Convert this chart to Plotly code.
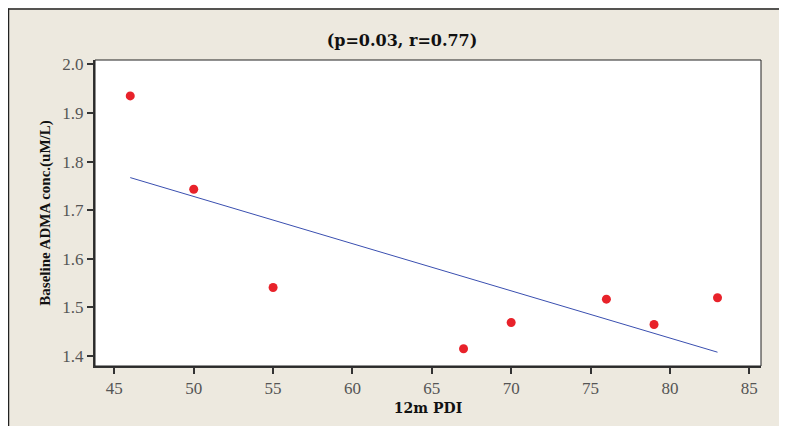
import plotly.graph_objects as go

pdi_12m = [46, 50, 55, 67, 70, 76, 79, 83]
adma = [1.935, 1.743, 1.541, 1.415, 1.469, 1.517, 1.465, 1.520]
fit_x = [46, 83]
fit_y = [1.767, 1.408]
x_ticks = [45, 50, 55, 60, 65, 70, 75, 80, 85]
y_ticks = [1.4, 1.5, 1.6, 1.7, 1.8, 1.9, 2.0]

OFF = 8  # page body margin
W, H = 787 - OFF, 426 - OFF
L, T = 95 - OFF, 60 - OFF
R, B = 787 - 761, 426 - 369
pw, ph = W - L - R, H - T - B

fig = go.Figure()
fig.add_trace(go.Scatter(x=fit_x, y=fit_y, mode="lines",
                         line=dict(color="#3a4fb0", width=1), hoverinfo="skip"))
fig.add_trace(go.Scatter(x=pdi_12m, y=adma, mode="markers",
                         marker=dict(color="#e8222a", size=9, line=dict(width=0))))

serif = "Liberation Serif, DejaVu Serif, serif"
fig.update_layout(
    width=W, height=H,
    margin=dict(l=L, r=R, t=T, b=B),
    paper_bgcolor="#ede9df",
    plot_bgcolor="white",
    showlegend=False,
    title=dict(text="<b>(p=0.03, r=0.77)</b>", x=(402 - 95) / pw, xref="paper",
               y=1 - (40 - OFF) / H, yref="container", xanchor="center", yanchor="middle",
               font=dict(family="DejaVu Serif, serif", size=16, color="#111")),
    xaxis=dict(range=[43.78, 85.74], tickvals=x_ticks, ticks="outside", ticklen=6,
               tickwidth=1.5, tickcolor="#333", showgrid=False, zeroline=False,
               showline=True, linecolor="#333", linewidth=2, mirror=False,
               tickfont=dict(family=serif, size=17, color="#555"),
               title=dict(text="<b>12m PDI</b>", standoff=6,
                          font=dict(family="DejaVu Serif, serif", size=14, color="#111"))),
    yaxis=dict(range=[1.3796, 2.0088], tickvals=y_ticks, ticktext=[f"{v:.1f}" for v in y_ticks],
               ticks="outside", ticklen=6, tickwidth=1.5, tickcolor="#333",
               showgrid=False, zeroline=False, showline=True, linecolor="#333",
               linewidth=2, tickfont=dict(family=serif, size=17, color="#555"),
               title=dict(text="<b>Baseline ADMA conc.(uM/L)</b>", standoff=8,
                          font=dict(family="Liberation Serif, serif", size=15, color="#111"))),
    shapes=[
        dict(type="rect", xref="paper", yref="paper", x0=0, x1=1, y0=0, y1=1,
             line=dict(color="#222", width=1), fillcolor="rgba(0,0,0,0)", layer="above"),
        dict(type="line", xref="paper", yref="paper",
             x0=-L / pw + 0.5 / pw, x1=-L / pw + 0.5 / pw, y0=1 + T / ph, y1=-(B + 5) / ph,
             line=dict(color="#222", width=1.5)),
        dict(type="line", xref="paper", yref="paper",
             x0=-L / pw, x1=1 + (R + 5) / pw, y0=1 + T / ph - 0.5 / ph, y1=1 + T / ph - 0.5 / ph,
             line=dict(color="#222", width=1.5)),
    ],
)
fig.write_html("out.html")
